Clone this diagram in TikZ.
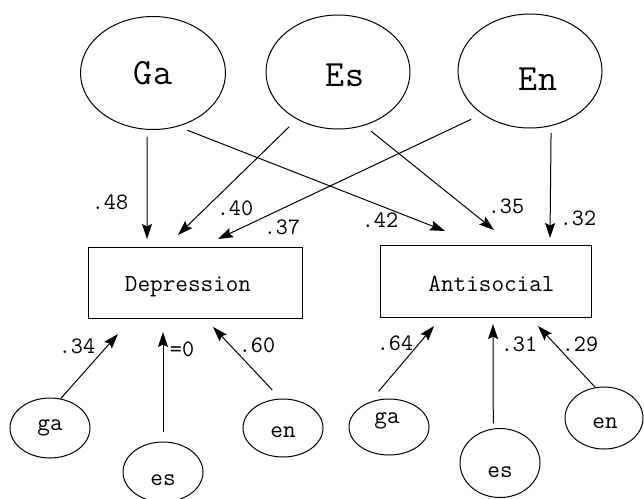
\documentclass[tikz,border=0pt]{standalone}
\usepackage{fontspec}
\usetikzlibrary{arrows.meta,shapes.geometric}
\begin{document}
\begin{tikzpicture}[x=1pt,y=-1pt,
  big/.style={draw,ellipse,line width=1pt,inner sep=0pt,minimum width=145pt,minimum height=113pt},
  small/.style={draw,ellipse,line width=1pt,inner sep=0pt,minimum width=80pt},
  box/.style={draw,rectangle,line width=1pt,inner sep=0pt},
  bigtxt/.style={inner sep=0pt,font=\ttfamily\fontsize{37}{37}\selectfont},
  txt/.style={inner sep=0pt,font=\ttfamily\fontsize{24.5}{24.5}\selectfont},
  coef/.style={inner sep=0pt,font=\ttfamily\fontsize{23.5}{23.5}\selectfont},
  arr/.style={line width=1pt,-{Stealth[length=15pt,width=10pt,inset=2.5pt]}}]
\useasboundingbox (0,0) rectangle (644,498);
\fill[white] (0,0) rectangle (644,498);

% latent factors
\node[big, label={[bigtxt]center:Ga}] (Ga) at (153,73) {};
\node[big, minimum width=144pt, minimum height=114pt, label={[bigtxt, shift={(7,3)}]center:Es}] (Es) at (338,72) {};
\node[big, minimum width=144pt, minimum height=114pt, label={[bigtxt, shift={(8,8)}]center:En}] (En) at (530,71) {};

% observed variables
\node[box, minimum width=214pt, minimum height=71pt, label={[txt, shift={(-7,4)}]center:Depression}] (Dep) at (195,282.5) {};
\node[box, minimum width=211pt, minimum height=72pt, label={[txt, shift={(6,3)}]center:Antisocial}] (Anti) at (485.5,281) {};

% specific factors
\node[small, minimum height=60pt, label={[txt]center:ga}] (gaD) at (50,428) {};
\node[small, minimum height=60pt, label={[txt, shift={(0,8)}]center:es}] (esD) at (163,472) {};
\node[small, minimum height=58pt, label={[txt, shift={(0,4)}]center:en}] (enD) at (283,428) {};
\node[small, minimum height=56pt, label={[txt, shift={(-2,-6)}]center:ga}] (gaA) at (389,427) {};
\node[small, minimum height=69pt, label={[txt, shift={(0,9)}]center:es}] (esA) at (500,463) {};
\node[small, minimum width=78pt, minimum height=62pt, label={[txt, shift={(1,5)}]center:en}] (enA) at (604,418) {};

% arrow tips
\coordinate (tD1) at (147,239);
\coordinate (tD2) at (178,235);
\coordinate (tD3) at (218,239);
\coordinate (tA1) at (445,231);
\coordinate (tA2) at (494,230);
\coordinate (tA3) at (550,238);
\coordinate (bD1) at (118,334);
\coordinate (bD2) at (163,332);
\coordinate (bD3) at (213,327);
\coordinate (bA1) at (434,326);
\coordinate (bA2) at (493,324);
\coordinate (bA3) at (538,326);

% general factor paths
\draw[arr, shorten <=7pt] (Ga.-96) -- (tD1);
\draw[arr, shorten <=10pt] (Ga.-65.4) -- (tA1);
\draw[arr, shorten <=10.5pt] (Es.-131.7) -- (tD2);
\draw[arr, shorten <=9pt] (Es.-64.9) -- (tA2);
\draw[arr, shorten <=12pt] (En.-138.2) -- (tD3);
\draw[arr, shorten <=7pt] (En.-69.9) -- (tA3);

% specific factor paths
\draw[arr] (gaD.70.5) -- (bD1);
\draw[arr, shorten <=10pt] (esD.north) -- (bD2);
\draw[arr, shorten <=12pt] (enD.95) -- (bD3);
\draw[arr, shorten <=14pt] (gaA.128.7) -- (bA1);
\draw[arr, shorten <=5pt] (esA.101.6) -- (bA2);
\draw[arr] (enA.106) -- (bA3);

% coefficients
\node[coef] (c48) at (110,202) {.48};
\node[coef] (c40) at (235,208) {.40};
\node[coef] (c37) at (282,227) {.37};
\node[coef] (c42) at (380,220) {.42};
\node[coef] (c35) at (506,206) {.35};
\node[coef] (c32) at (578,218) {.32};
\node[coef] (c34) at (77,346) {.34};
\node[coef] (c0) at (182,349) {=0};
\node[coef] (c60) at (257,345) {.60};
\node[coef] (c64) at (395,343) {.64};
\node[coef] (c31) at (519,344) {.31};
\node[coef] (c29) at (580,344) {.29};
\end{tikzpicture}
\end{document}
